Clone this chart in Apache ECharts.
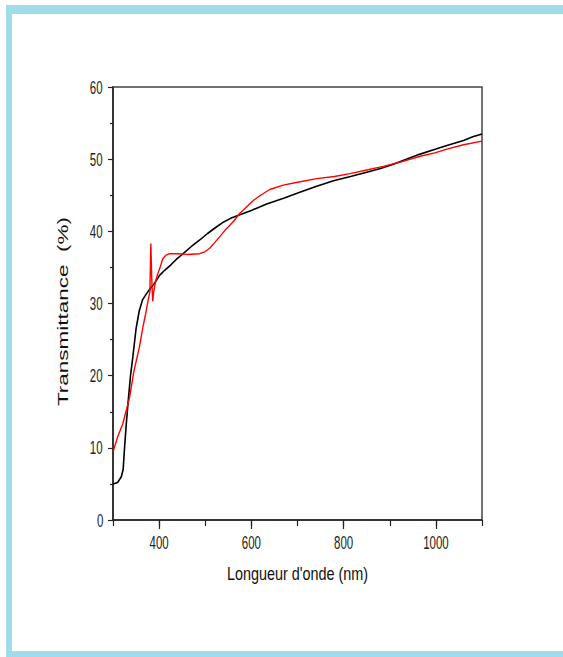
<!DOCTYPE html>
<html><head><meta charset="utf-8">
<script src="https://cdn.jsdelivr.net/npm/echarts@6/dist/echarts.min.js"></script>
<style>
html,body{margin:0;padding:0;background:#fff;width:563px;height:657px;overflow:hidden;}
#frame{position:absolute;left:6px;top:5px;width:600px;height:637px;border-top:9px solid #9fdbe9;border-left:6px solid #9fdbe9;border-bottom:6px solid #9fdbe9;}
#chart{position:absolute;left:0;top:0;width:563px;height:657px;}
</style></head><body>
<div id="frame"></div><div id="chart"></div>
<script>
const xTickLabels = [400, 600, 800, 1000];
const yTickLabels = [0, 10, 20, 30, 40, 50, 60];
const xTitle = "Longueur d'onde (nm)";
const yTitle = "Transmittance  (%)";

const blackNm = [300,310,318,322,325,329,333,338,343,350,357,364,372,380,390,401,412,423,437,452,470,488,505,524,540,555,575,600,633,670,705,740,778,815,850,880,908,940,966,1000,1024,1060,1080,1100];
const blackT  = [5.0,5.2,6.0,7.0,10,13.5,16.5,20,22.6,26.5,29,30.5,31.3,32,32.8,33.9,34.6,35.2,36.1,36.9,37.9,38.8,39.7,40.6,41.3,41.8,42.3,42.9,43.8,44.6,45.4,46.2,47.0,47.6,48.2,48.7,49.3,50.1,50.7,51.4,51.9,52.6,53.1,53.5];

const redNm = [300,310,321,330,336,345,352,358,365,370,376,380,382,384,386,388,392,396,401,408,415,423,440,460,488,500,510,520,532,545,560,575,590,605,620,640,669,700,742,780,814,850,886,923,966,1000,1024,1060,1100];
const redT  = [9.4,11.5,13.3,15.5,17.0,20.5,22.5,24.2,26.8,28.3,30.4,31.6,38.3,33.5,30.3,31.5,33.0,33.9,34.8,36.2,36.7,36.9,36.9,36.8,36.9,37.2,37.7,38.4,39.3,40.3,41.3,42.5,43.4,44.3,45.0,45.8,46.4,46.8,47.3,47.6,48.0,48.5,49.0,49.6,50.4,50.9,51.4,52.0,52.5];

const pairs = (xs, ys) => xs.map((x, i) => [x, ys[i]]);
const FONT = "'Liberation Sans', Arial, sans-serif";
const AX = '#222';

const chart = echarts.init(document.getElementById('chart'), null, {renderer: 'svg'});
const option = {
  animation: false,
  backgroundColor: 'transparent',
  grid: {left: 113, top: 87, right: 81, bottom: 137, show: true, borderColor: '#444', borderWidth: 1.5, backgroundColor: 'transparent'},
  xAxis: [{
    type: 'value', min: 300, max: 1100, position: 'bottom',
    name: xTitle, nameLocation: 'middle', nameGap: 46,
    nameTextStyle: {fontFamily: FONT, fontSize: 16, color: '#111'},
    axisLine: {show: true, onZero: false, lineStyle: {color: AX, width: 1.5}},
    axisTick: {show: true, customValues: xTickLabels, length: 9, lineStyle: {color: AX, width: 1.2}},
    axisLabel: {customValues: xTickLabels, margin: 15, fontFamily: FONT, fontSize: 14, color: '#222', formatter: v => String(v)},
    splitLine: {show: false}
  }, {
    type: 'value', min: 300, max: 1100, interval: 100, position: 'bottom', offset: 0,
    axisLine: {show: false},
    axisTick: {show: true, length: 6, lineStyle: {color: AX, width: 1.2}},
    axisLabel: {show: false}, splitLine: {show: false}
  }],
  yAxis: {
    type: 'value', min: yTickLabels[0], max: yTickLabels[yTickLabels.length - 1],
    interval: yTickLabels[1] - yTickLabels[0],
    name: yTitle, nameLocation: 'middle', nameRotate: 90, nameGap: 43,
    nameTextStyle: {fontFamily: FONT, fontSize: 15, color: '#111', padding: [0, 16, 0, 0]},
    axisLine: {show: true, onZero: false, lineStyle: {color: AX, width: 1.5}},
    axisTick: {show: true, length: 5, lineStyle: {color: AX, width: 1.2}},
    minorTick: {show: true, splitNumber: 2, length: 3, lineStyle: {color: AX, width: 1.2}},
    axisLabel: {margin: 9, fontFamily: FONT, fontSize: 14, color: '#222', formatter: v => String(v)},
    splitLine: {show: false}
  },
  series: [{
    type: 'line', xAxisIndex: 0, data: pairs(blackNm, blackT), showSymbol: false, symbol: 'none',
    lineStyle: {color: '#000', width: 1.6}, itemStyle: {color: '#000'}
  }, {
    type: 'line', xAxisIndex: 0, data: pairs(redNm, redT), showSymbol: false, symbol: 'none',
    lineStyle: {color: '#ff0000', width: 1.4}, itemStyle: {color: '#ff0000'}
  }]
};
chart.setOption(option);

function stretch() {
  document.querySelectorAll('#chart text').forEach(t => {
    const old = t.getAttribute('transform') || '';
    if (old.indexOf('scale(') >= 0) return;
    const s = t.textContent;
    let sx, sy;
    if (s.indexOf('Transmittance') >= 0) { sx = 1.5; sy = 1; }
    else if (s.indexOf('Longueur') >= 0) { sx = 0.9; sy = 1.2; }
    else if (/^\d+$/.test(s.trim())) { sx = 0.82; sy = 1.3; }
    else return;
    let b;
    try { b = t.getBBox(); } catch (e) { return; }
    const cx = b.x + b.width / 2, cy = b.y + b.height / 2;
    t.setAttribute('transform', old + ' translate(' + cx + ' ' + cy + ') scale(' + sx + ' ' + sy + ') translate(' + (-cx) + ' ' + (-cy) + ')');
  });
}
chart.on('finished', stretch);
stretch();
setTimeout(stretch, 0);
setTimeout(stretch, 100);
setTimeout(stretch, 300);
</script>
</body></html>
